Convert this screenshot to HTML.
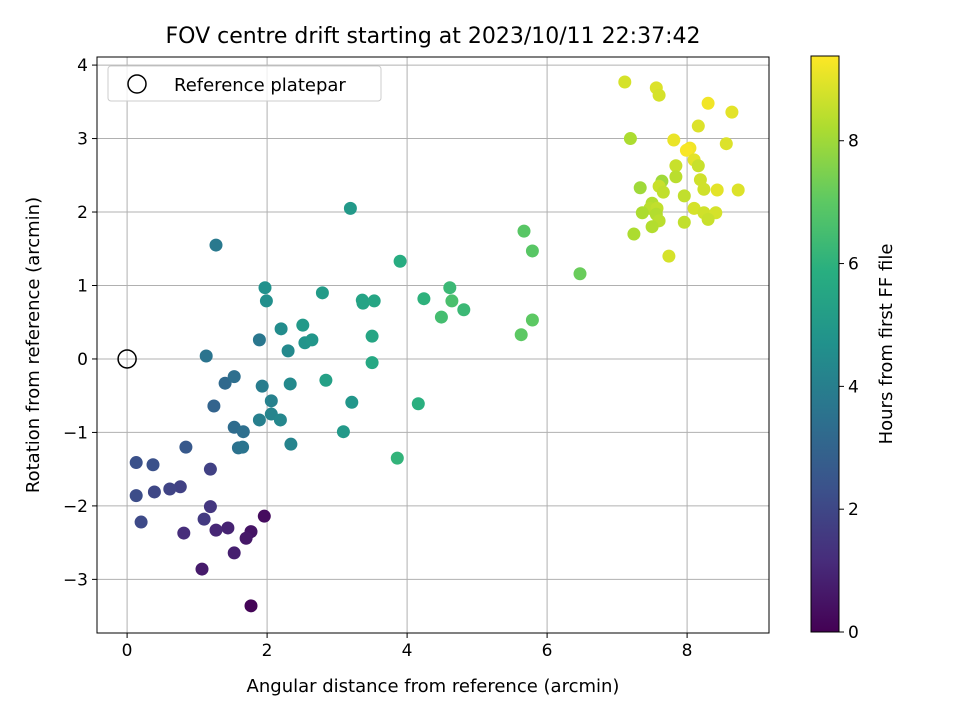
<!DOCTYPE html>
<html><head><meta charset="utf-8"><style>
body{margin:0;background:#fff;font-family:"Liberation Sans","DejaVu Sans",sans-serif}
</style></head><body>
<svg id="chart" width="960" height="720" xmlns="http://www.w3.org/2000/svg" font-family="DejaVu Sans, Liberation Sans, sans-serif">
<rect width="960" height="720" fill="#fff"/>
<text x="433" y="43" text-anchor="middle" font-size="22" fill="#000">FOV centre drift starting at 2023/10/11 22:37:42</text>
<g id="grid"></g><g id="pts"></g><g id="axes"></g>
<text x="433" y="692" text-anchor="middle" font-size="18">Angular distance from reference (arcmin)</text>
<text transform="translate(39,345) rotate(-90)" text-anchor="middle" font-size="18">Rotation from reference (arcmin)</text>
<g>
<rect x="108" y="66" width="273" height="35" rx="3" fill="#fff" fill-opacity="0.8" stroke="#ccc"/>
<circle cx="137" cy="84" r="9" fill="none" stroke="#000" stroke-width="1.5"/>
<text x="174" y="91" font-size="18">Reference platepar</text>
</g>
<defs><linearGradient id="vir" x1="0" y1="1" x2="0" y2="0">
<stop offset="0" stop-color="#440154"/><stop offset="0.125" stop-color="#472d7b"/><stop offset="0.25" stop-color="#3b528b"/><stop offset="0.375" stop-color="#2c728e"/><stop offset="0.5" stop-color="#21918c"/><stop offset="0.625" stop-color="#28ae80"/><stop offset="0.75" stop-color="#5ec962"/><stop offset="0.875" stop-color="#addc30"/><stop offset="1" stop-color="#fde725"/></linearGradient></defs>
<rect x="811" y="56" width="28" height="576" fill="url(#vir)" stroke="#000"/>
<g id="cbticks"></g>
<text transform="translate(892,344) rotate(-90)" text-anchor="middle" font-size="18">Hours from first FF file</text>
</svg>
<script>
const xs=[1.96,1.77,1.7,1.77,1.53,1.44,1.27,1.07,0.81,1.19,1.10,1.19,0.76,0.61,0.39,0.2,0.13,0.13,0.37,0.84,1.24,1.4,1.53,1.13,1.27,1.53,1.66,1.59,1.65,1.89,1.93,1.89,2.06,2.06,2.19,2.34,2.33,2.30,2.2,1.99,1.97,2.54,2.64,2.51,2.79,2.84,3.09,3.21,3.19,3.36,3.37,3.53,3.5,3.5,3.9,3.86,4.16,4.24,4.49,4.61,4.64,4.81,5.67,5.79,5.63,5.79,6.47,7.11,7.19,7.56,7.6,8.3,8.64,8.16,7.81,8.04,7.99,8.56,8.1,8.16,7.84,7.64,7.84,8.19,8.24,8.43,8.73,7.6,7.66,7.33,7.96,7.5,7.47,7.57,8.1,7.36,7.56,8.24,8.41,8.3,7.96,7.6,7.5,7.24,7.74];
const ys=[-2.14,-2.35,-2.44,-3.36,-2.64,-2.30,-2.33,-2.86,-2.37,-2.01,-2.18,-1.50,-1.74,-1.77,-1.81,-2.22,-1.86,-1.41,-1.44,-1.20,-0.64,-0.33,-0.24,0.04,1.55,-0.93,-0.99,-1.21,-1.2,0.26,-0.37,-0.83,-0.57,-0.75,-0.83,-1.16,-0.34,0.11,0.41,0.79,0.97,0.22,0.26,0.46,0.9,-0.29,-0.99,-0.59,2.05,0.8,0.76,0.79,0.31,-0.05,1.33,-1.35,-0.61,0.82,0.57,0.97,0.79,0.67,1.74,1.47,0.33,0.53,1.16,3.77,3.0,3.69,3.59,3.48,3.36,3.17,2.98,2.87,2.84,2.93,2.71,2.63,2.63,2.42,2.48,2.44,2.31,2.3,2.3,2.35,2.27,2.33,2.22,2.12,2.05,2.05,2.05,1.99,1.97,1.99,1.99,1.9,1.86,1.88,1.8,1.70,1.40];
const hrs=[0.3,0.5,0.6,0.1,0.8,0.9,1.0,0.7,1.2,1.5,1.6,1.8,1.8,1.9,2.0,2.1,2.2,2.3,2.3,2.6,3.0,3.2,3.4,3.6,3.8,3.3,3.4,3.5,3.6,3.7,3.9,4.0,4.1,4.2,4.3,4.2,4.4,4.4,4.5,4.6,4.7,4.8,4.9,5.0,5.1,5.3,5.0,4.9,5.0,5.4,5.4,5.5,5.5,5.6,5.8,6.1,5.9,6.0,6.5,6.3,6.6,6.3,6.9,6.9,7.0,7.0,7.2,8.8,8.2,8.9,8.8,9.2,9.0,8.9,9.1,9.2,9.3,8.9,9.0,8.6,8.6,8.0,8.4,8.7,8.7,9.0,8.9,8.6,8.5,8.0,8.5,8.3,8.4,8.5,8.8,8.2,8.3,8.7,8.8,8.6,8.5,8.4,8.3,8.2,8.8];
const xTicks=[0,2,4,6,8], yTicks=[-3,-2,-1,0,1,2,3,4], cTicks=[0,2,4,6,8];
const L=97,R=769,T=57,B=633, XMIN=-0.43,XMAX=9.17,YMIN=-3.73,YMAX=4.11,CMAX=9.38;
const sx=v=>L+(v-XMIN)/(XMAX-XMIN)*(R-L), sy=v=>B-(v-YMIN)/(YMAX-YMIN)*(B-T), sc=v=>632-v/CMAX*576;
const vir=[[68,1,84],[71,45,123],[59,82,139],[44,114,142],[33,145,140],[40,174,128],[94,201,98],[173,220,48],[253,231,37]];
function col(h){let t=Math.max(0,Math.min(1,h/CMAX))*8,i=Math.min(7,Math.floor(t)),f=t-i;const a=vir[i],b=vir[i+1];return `rgb(${a.map((c,k)=>Math.round(c+(b[k]-c)*f)).join(',')})`;}
const NS='http://www.w3.org/2000/svg';
function mk(p,tag,at){const e=document.createElementNS(NS,tag);for(const k in at)e.setAttribute(k,at[k]);p.appendChild(e);return e;}
const g=document.getElementById('grid'),ax=document.getElementById('axes'),pg=document.getElementById('pts'),cb=document.getElementById('cbticks');
xTicks.forEach(v=>{const x=sx(v);
 const l=mk(g,'line',{x1:x,x2:x,y1:T,y2:B,stroke:'#b0b0b0','stroke-width':1});
 
 
 mk(ax,'line',{x1:x,x2:x,y1:B,y2:B+5,stroke:'#000'});
 const t=mk(ax,'text',{x:x,y:B+23,'text-anchor':'middle','font-size':17});t.textContent=v;
 
 });
yTicks.forEach(v=>{const y=sy(v);
 const l=mk(g,'line',{x1:L,x2:R,y1:y,y2:y,stroke:'#b0b0b0','stroke-width':1});
 
 
 mk(ax,'line',{x1:L-5,x2:L,y1:y,y2:y,stroke:'#000'});
 const t=mk(ax,'text',{x:L-9,y:y+6,'text-anchor':'end','font-size':17});t.textContent=(v<0?'\u2212'+(-v):v);
 
 });
const fr=mk(ax,'rect',{x:L,y:T,width:R-L,height:B-T,fill:'none',stroke:'#000','stroke-width':1});


const ref=mk(ax,'circle',{cx:sx(0),cy:sy(0),r:9,fill:'none',stroke:'#000','stroke-width':1.5});


xs.forEach((x,i)=>{const c=mk(pg,'circle',{cx:sx(x),cy:sy(ys[i]),r:6.5,fill:col(hrs[i])});
 
 });
cTicks.forEach(v=>{const y=sc(v);
 mk(cb,'line',{x1:839,x2:844,y1:y,y2:y,stroke:'#000'});
 const t=mk(cb,'text',{x:848,y:y+6,'font-size':17});t.textContent=v;
 
 });
</script>
</body></html>
